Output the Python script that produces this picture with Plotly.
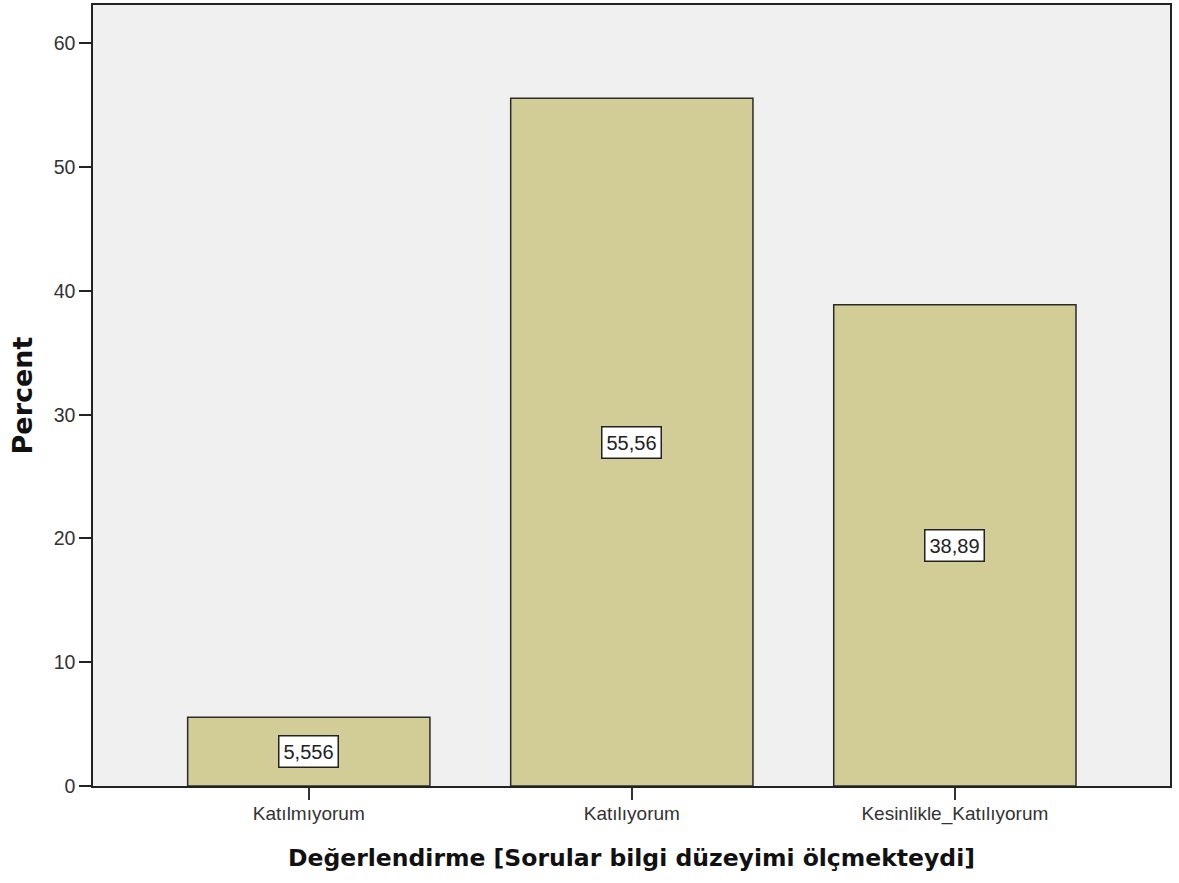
import plotly.graph_objects as go

categories = ["Katılmıyorum", "Katılıyorum", "Kesinlikle_Katılıyorum"]
percent = [5.556, 55.56, 38.89]
labels = ["5,556", "55,56", "38,89"]

fig = go.Figure()
fig.add_trace(go.Bar(
    x=categories, y=percent,
    marker=dict(color="#d2cd97", line=dict(color="#2b2b2b", width=1.5)),
    width=0.75,
    hoverinfo="skip",
))

for c, v, t in zip(categories, percent, labels):
    fig.add_annotation(
        x=c, y=v / 2, text=t, showarrow=False,
        font=dict(family="Liberation Sans, Arial", size=20, color="#222"),
        bgcolor="white", bordercolor="#222", borderwidth=1.5, borderpad=4,
    )

fig.update_layout(
    width=1179, height=883,
    margin=dict(l=93, r=9, t=5, b=97, autoexpand=False),
    paper_bgcolor="white", plot_bgcolor="#f0f0f0",
    showlegend=False,
    font=dict(family="Liberation Sans, Arial", color="#333"),
)
fig.update_xaxes(
    range=[-0.668, 2.666], automargin=False,
    showline=True, linecolor="#222", linewidth=1.5, mirror=True,
    ticks="outside", ticklen=12, tickcolor="#333", tickwidth=1.5,
    tickfont=dict(size=19, color="#333"), ticklabelstandoff=-3,
    showgrid=False,
    title=dict(text="<b>Değerlendirme [Sorular bilgi düzeyimi ölçmekteydi]</b>",
               font=dict(family="DejaVu Sans", size=23.5, color="#111"), standoff=26),
)
fig.update_yaxes(
    range=[0, 63.1], automargin=False,
    tickvals=[0, 10, 20, 30, 40, 50, 60],
    showline=True, linecolor="#222", linewidth=1.5, mirror=True,
    ticks="outside", ticklen=12, tickcolor="#222", tickwidth=1.5,
    tickfont=dict(size=19.5, color="#333"),
    showgrid=False, zeroline=False,
    title=dict(text="<b>Percent</b>", font=dict(family="DejaVu Sans", size=27, color="#111"), standoff=13),
)

fig.write_html("out.html", config={"displayModeBar": False},
               post_script="document.body.style.margin='0';")
